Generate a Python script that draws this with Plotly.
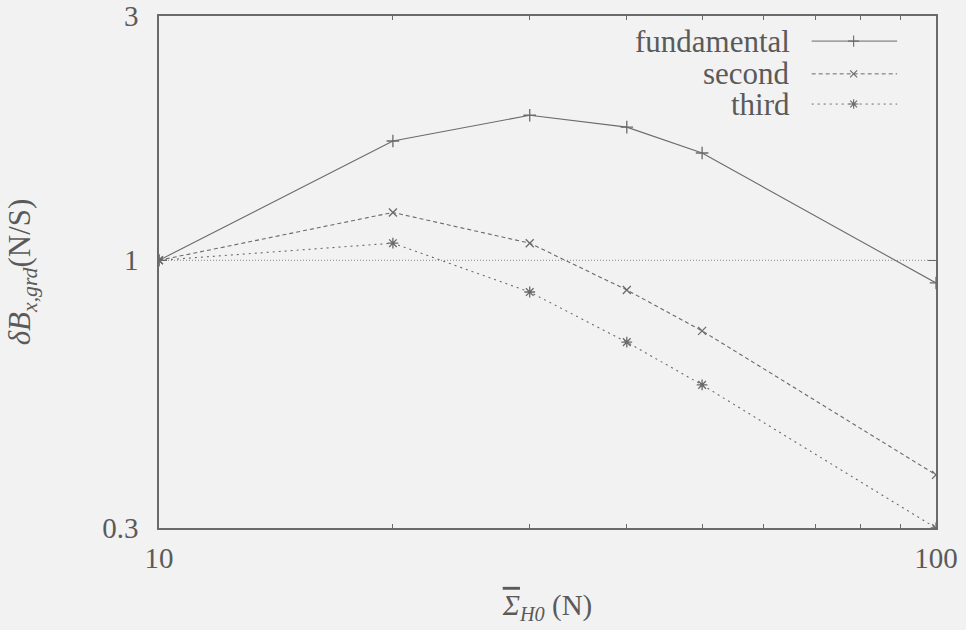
import math
import plotly.graph_objects as go

# ---- data ----
sigma_h0 = [10, 20, 30, 40, 50, 100]
fundamental = [1.0, 1.71, 1.92, 1.82, 1.62, 0.903]
second = [1.0, 1.24, 1.08, 0.875, 0.728, 0.381]
third = [1.0, 1.08, 0.867, 0.692, 0.571, 0.30]
series_names = ["fundamental", "second", "third"]
reference_level = 1.0

x_minor = [20, 30, 40, 50, 60, 70, 80, 90]
y_ticks = [0.3, 1, 3]
y_ticktext = ["0.3", "1", "3"]
x_ticks = [10, 100]
x_ticktext = ["10", "100"]

FONT = "Liberation Serif"
INK = "#5a5a5a"
LINE = "#6a6a6a"
BG = "#f2f2f2"

styles = [
    dict(dash="solid", symbol="cross-thin", size=9),
    dict(dash="4px,3px", symbol="x-thin", size=8),
    dict(dash="2px,4px", symbol="asterisk", size=9),
]

fig = go.Figure()

# reference line at 1
fig.add_shape(type="line", xref="paper", x0=0, x1=1, yref="y", y0=reference_level, y1=reference_level,
              line=dict(color="#888888", width=1, dash="1px,2px"), layer="below")

for name, ys, st in zip(series_names, [fundamental, second, third], styles):
    fig.add_trace(go.Scatter(
        x=sigma_h0, y=ys, mode="lines+markers", name=name, showlegend=False,
        line=dict(color=LINE, width=1.1, dash=st["dash"]),
        marker=dict(symbol=st["symbol"], size=st["size"], color=LINE,
                    line=dict(color=LINE, width=1.3)),
        cliponaxis=True,
    ))

# custom legend (text right-aligned, sample to the right)
leg_y = [0.951, 0.887, 0.828]
for name, st, ly in zip(series_names, styles, leg_y):
    fig.add_trace(go.Scatter(
        x=[0.840, 0.894, 0.950], y=[ly, ly, ly], xaxis="x2", yaxis="y2",
        mode="lines", showlegend=False, hoverinfo="skip",
        line=dict(color=LINE, width=1.0, dash=st["dash"]),
    ))
    fig.add_trace(go.Scatter(
        x=[0.894], y=[ly], xaxis="x2", yaxis="y2",
        mode="markers", showlegend=False, hoverinfo="skip",
        marker=dict(symbol=st["symbol"], size=st["size"] - 1, color=LINE,
                    line=dict(color=LINE, width=1.1)),
    ))
    fig.add_annotation(x=0.815, y=ly, xref="x2", yref="y2", text=name, showarrow=False,
                       xanchor="right", yanchor="middle",
                       font=dict(family=FONT, size=31, color=INK))

fig.update_layout(
    width=966, height=630,
    margin=dict(l=159, r=30, t=16, b=102, autoexpand=False),
    paper_bgcolor=BG, plot_bgcolor=BG,
    showlegend=False,
    font=dict(family=FONT, size=29, color=INK),
    xaxis=dict(
        type="log", range=[1, 2], automargin=False,
        tickvals=x_ticks, ticktext=x_ticktext,
        ticks="inside", ticklen=8, tickwidth=1, tickcolor=LINE,
        minor=dict(tickvals=x_minor, ticks="inside", ticklen=4, tickcolor=LINE, showgrid=False),
        showgrid=False, zeroline=False,
        showline=True, linecolor=LINE, linewidth=1.5, mirror="allticks",
        tickfont=dict(family=FONT, size=29, color=INK),
        ticklabelstandoff=3,
        title=dict(text="<span style=\"text-decoration:overline\"><i>Σ</i></span><sub><i>H0</i></sub> (N)",
                   font=dict(family=FONT, size=29, color=INK),
                   standoff=22),
    ),
    yaxis=dict(
        type="log", range=[math.log10(0.3), math.log10(3)], automargin=False,
        tickvals=y_ticks, ticktext=y_ticktext,
        ticks="inside", ticklen=8, tickwidth=1, tickcolor=LINE,
        showgrid=False, zeroline=False,
        showline=True, linecolor=LINE, linewidth=1.5, mirror="allticks",
        tickfont=dict(family=FONT, size=29, color=INK),
        ticklabelstandoff=13,
        title=dict(text="<i>δB<sub>x,grd</sub></i>(N/S)", font=dict(family=FONT, size=31, color=INK),
                   standoff=62),
    ),
    xaxis2=dict(overlaying="x", range=[0, 1], visible=False, fixedrange=True),
    yaxis2=dict(overlaying="y", range=[0, 1], visible=False, fixedrange=True),
)

fig.write_html("out.html")
